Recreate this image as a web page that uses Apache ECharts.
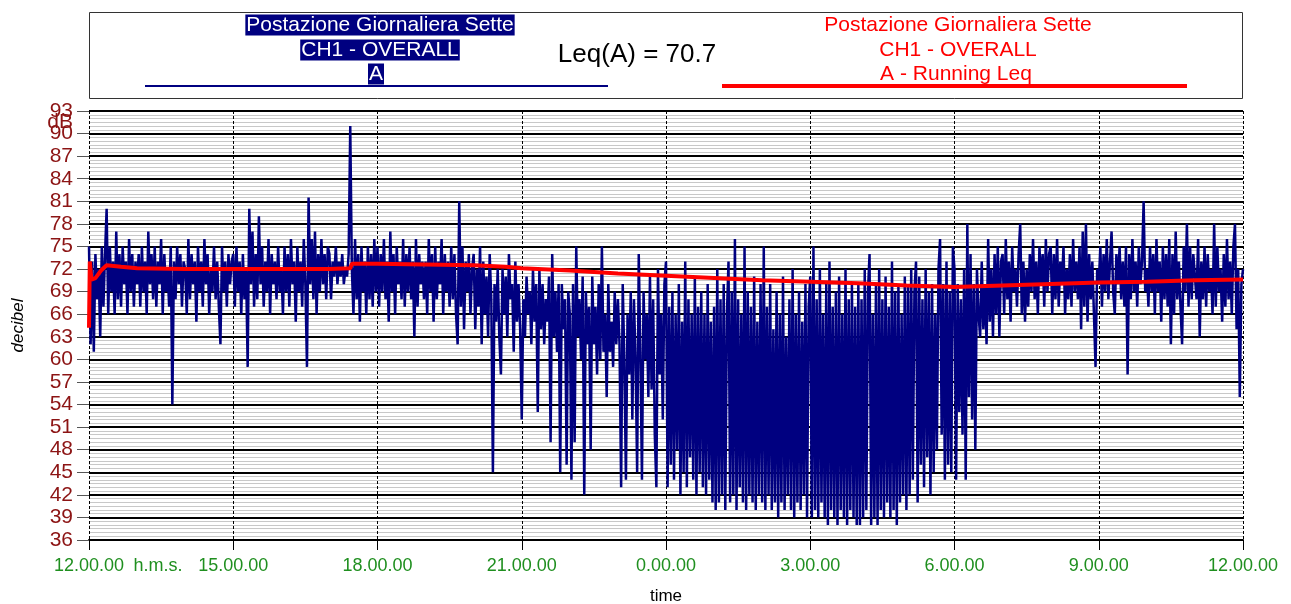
<!DOCTYPE html>
<html>
<head>
<meta charset="utf-8">
<title>Postazione Giornaliera Sette</title>
<script src="https://cdn.jsdelivr.net/npm/echarts@6/dist/echarts.min.js"></script>
<style>
  html, body { margin: 0; padding: 0; background: #fff; }
  #chart { width: 1291px; height: 604px; }
</style>
</head>
<body>
<div id="chart"></div>
<script>
// x axis tick labels, one every 3 hours (180 minutes from 12.00.00)
var timeLabels = ['12.00.00', '15.00.00', '18.00.00', '21.00.00', '0.00.00',
  '3.00.00', '6.00.00', '9.00.00', '12.00.00'];

// A-weighted level, one value every 2 minutes, one row per hour (12 -> 11)
var stepMinutes = 2;
var levelA = [
  75, 62, 73, 61, 74, 68, 72, 63, 75, 67, 74, 80, 66, 75, 69, 73, 66, 77, 68, 74, 67, 75, 70, 73, 66, 76, 69, 74, 67, 73,
  70, 74, 67, 75, 69, 73, 66, 77, 70, 74, 68, 75, 67, 73, 70, 76, 66, 74, 69, 72, 67, 75, 54, 73, 68, 75, 70, 74, 67, 73,
  72, 66, 76, 68, 74, 70, 73, 65, 75, 69, 73, 67, 76, 70, 74, 66, 72, 69, 75, 68, 73, 67, 62, 75, 69, 73, 67, 74, 70, 73,
  74, 67, 75, 69, 73, 66, 74, 68, 72, 59, 80, 70, 77, 67, 74, 68, 79, 70, 75, 67, 73, 69, 76, 66, 74, 70, 73, 68, 75, 69,
  72, 66, 75, 69, 74, 67, 76, 70, 73, 65, 75, 69, 73, 67, 76, 70, 59, 81.5, 70, 76, 68, 77, 66, 74, 69, 76, 70, 74, 68, 75,
  74, 68, 73, 71, 75, 70, 73, 71, 74, 70, 72, 71, 74, 91, 72, 66, 76, 68, 74, 65, 75, 69, 73, 66, 75, 68, 74, 67, 76, 69,
  75, 67, 74, 69, 76, 68, 73, 65, 77, 69, 74, 66, 75, 70, 73, 68, 76, 67, 74, 69, 75, 68, 73, 63, 76, 67, 74, 70, 73, 68,
  73, 66, 76, 69, 74, 65, 75, 68, 73, 70, 76, 66, 74, 69, 73, 67, 75, 68, 74, 66, 62, 81, 67, 75, 64, 73, 69, 74, 66, 72,
  74, 64, 72, 67, 75, 62, 73, 66, 71, 63, 74, 68, 45, 70, 65, 72, 63, 58, 72, 66, 71, 63, 74, 68, 70, 61, 73, 65, 70, 64,
  52, 68, 63, 71, 66, 69, 62, 72, 65, 70, 53, 72, 64, 70, 62, 68, 65, 71, 49, 74, 63, 69, 61, 70, 45, 70, 64, 68, 46, 69,
  66, 44, 70, 49, 75, 63, 68, 60, 71, 42, 69, 62, 67, 48, 71, 62, 67, 58, 70, 60, 75, 61, 66, 55, 70, 61, 65, 59, 69, 62,
  68, 62, 43, 70, 60, 44, 66, 58, 69, 52, 68, 60, 45, 74, 61, 44, 69, 60, 66, 55, 71, 56, 68, 50, 43, 72, 58, 66, 52, 70,
  73, 43, 67, 46, 69, 44, 66, 48, 70, 42, 65, 45, 73, 43, 68, 47, 66, 44, 71, 42, 67, 45, 69, 43, 66, 42, 70, 44, 65, 41,
  67, 40, 72, 41, 68, 42, 70, 40, 66, 73, 41, 69, 42, 76, 40, 68, 43, 66, 41, 75, 40, 69, 42, 67, 41, 71, 40, 65, 42, 70,
  41, 75, 40, 67, 42, 70, 40, 64, 41, 69, 39, 66, 41, 71, 40, 63, 42, 68, 40, 72, 39, 66, 41, 69, 40, 65, 42, 70, 39, 67,
  71, 39, 75, 40, 68, 39, 72, 41, 66, 39, 70, 38, 73, 40, 67, 39, 69, 38, 71, 40, 66, 39, 72, 38, 68, 40, 70, 39, 67, 38,
  70, 38, 68, 39, 72, 40, 69, 74, 38, 66, 39, 70, 38, 72, 40, 68, 39, 71, 41, 67, 39, 73, 40, 69, 38, 70, 41, 66, 42, 71,
  40, 70, 42, 72, 44, 69, 73, 41, 71, 46, 68, 43, 72, 47, 69, 42, 70, 45, 66, 48, 72, 76, 50, 70, 44, 73, 46, 69, 45, 75,
  72, 44, 70, 53, 68, 50, 72, 44, 78, 55, 74, 52, 70, 48, 72, 66, 63, 73, 64, 70, 62, 76, 65, 72, 63, 74, 66, 75, 63, 73,
  74, 66, 76, 68, 73, 65, 75, 69, 72, 67, 74, 78, 66, 73, 65, 72, 67, 74, 69, 76, 68, 73, 66, 75, 70, 74, 67, 76, 69, 74,
  75, 66, 74, 68, 76, 67, 73, 70, 75, 66, 72, 68, 74, 67, 76, 69, 73, 68, 75, 64, 77, 67, 78, 65, 74, 68, 73, 66, 59, 72,
  70, 75, 67, 74, 69, 76, 68, 73, 77, 69, 66, 74, 70, 75, 68, 73, 67, 75, 58, 74, 68, 76, 69, 73, 67, 75, 70, 73, 81, 69,
  72, 67, 75, 69, 74, 66, 76, 69, 73, 65, 75, 68, 74, 67, 76, 62, 74, 66, 77, 68, 73, 67, 62, 75, 69, 78, 67, 75, 68, 74,
  74, 68, 76, 63, 73, 68, 75, 67, 74, 69, 72, 66, 78, 67, 75, 69, 72, 65, 74, 67, 76, 68, 73, 66, 75, 78, 64, 72, 55, 70,
  72
];

// running Leq, sampled at these minutes after 12.00.00
var leqMinutes = [0, 1, 3, 8, 15, 22, 40, 60, 120, 180, 240, 300, 326, 328, 360, 420,
  480, 520, 540, 600, 660, 720, 780, 840, 900, 960, 1020, 1080, 1140, 1200, 1260,
  1320, 1380, 1440];
var leqValues = [64.2, 73, 70.6, 70.8, 71.8, 72.5, 72.3, 72.1, 72.0, 72.0, 72.0, 72.0,
  72.1, 72.7, 72.7, 72.6, 72.5, 72.3, 72.1, 71.8, 71.4, 71.1, 70.8, 70.5, 70.3, 70.1,
  69.8, 69.6, 69.8, 70.0, 70.2, 70.3, 70.5, 70.6];

var leqTotal = 70.7;
var titleLines = ['Postazione Giornaliera Sette', 'CH1 - OVERALL'];

var FONT = '"Liberation Sans", Arial, sans-serif';

function renderNoiseChart(chartID) {
  var chartDom = document.getElementById(chartID);
  var myChart = echarts.init(chartDom);

  var levelData = levelA.map(function (v, i) { return [i * stepMinutes, v]; });
  var leqData = leqMinutes.map(function (m, i) { return [m, leqValues[i]]; });

  function boxText(text, x, y, color, bg) {
    return {
      type: 'text',
      x: x,
      y: y,
      z: 10,
      style: {
        text: text,
        align: 'center',
        verticalAlign: 'middle',
        fill: color,
        font: '21px ' + FONT,
        backgroundColor: bg || 'transparent',
        padding: bg ? [0, 1, 0, 1] : 0
      }
    };
  }

  var option = {
    animation: false,
    backgroundColor: '#fff',
    grid: { left: 89, right: 48, top: 111, bottom: 64, outerBoundsMode: 'none', containLabel: false },
    xAxis: {
      type: 'value',
      min: 0,
      max: 1440,
      interval: 180,
      name: 'time',
      nameLocation: 'middle',
      nameGap: 48,
      nameTextStyle: { color: '#000', fontSize: 17, fontFamily: FONT },
      axisLine: { show: true, lineStyle: { color: '#000', width: 2 } },
      axisTick: { show: true, length: 10, lineStyle: { color: '#000' } },
      axisLabel: {
        margin: 17,
        color: '#1f8f1f',
        fontSize: 18,
        fontFamily: FONT,
        formatter: function (v) { return timeLabels[Math.round(v / 180)]; }
      },
      splitLine: { show: true, lineStyle: { color: '#000', width: 1, type: [3, 2] } }
    },
    yAxis: {
      type: 'value',
      min: 36,
      max: 93,
      interval: 3,
      name: 'decibel',
      nameLocation: 'middle',
      nameGap: 62,
      nameRotate: 90,
      nameTextStyle: { color: '#000', fontSize: 17, fontStyle: 'italic', fontFamily: FONT },
      axisLine: { show: false },
      axisTick: { show: true, length: 12, lineStyle: { color: '#555' } },
      axisLabel: { margin: 16, color: '#8c1414', fontSize: 21, fontFamily: FONT },
      splitLine: { show: true, lineStyle: { color: '#000', width: 2 } },
      minorTick: { show: false, splitNumber: 6 },
      minorSplitLine: { show: true, lineStyle: { color: '#c8c8c8', width: 1 } }
    },
    series: [
      {
        name: 'A',
        type: 'line',
        data: levelData,
        showSymbol: false,
        lineStyle: { color: '#000080', width: 2.5 },
        itemStyle: { color: '#000080' },
        z: 2
      },
      {
        name: 'A - Running Leq',
        type: 'line',
        data: leqData,
        showSymbol: false,
        lineStyle: { color: '#ff0000', width: 4 },
        itemStyle: { color: '#ff0000' },
        z: 3
      }
    ],
    graphic: [
      {
        type: 'rect',
        shape: { x: 89.5, y: 12.5, width: 1153, height: 86 },
        style: { fill: 'none', stroke: '#333', lineWidth: 1 }
      },
      boxText(titleLines[0], 380, 25, '#fff', '#000080'),
      boxText(titleLines[1], 380, 50, '#fff', '#000080'),
      boxText('A', 376, 74, '#fff', '#000080'),
      {
        type: 'line',
        shape: { x1: 145, y1: 86, x2: 608, y2: 86 },
        style: { stroke: '#000080', lineWidth: 2 }
      },
      {
        type: 'text',
        x: 637,
        y: 55,
        style: {
          text: 'Leq(A) = ' + leqTotal.toFixed(1),
          align: 'center',
          verticalAlign: 'middle',
          fill: '#000',
          font: '26px ' + FONT
        }
      },
      boxText(titleLines[0], 958, 25, '#ff0000'),
      boxText(titleLines[1], 958, 50, '#ff0000'),
      boxText('A - Running Leq', 956, 74, '#ff0000'),
      {
        type: 'line',
        shape: { x1: 722, y1: 86, x2: 1187, y2: 86 },
        style: { stroke: '#ff0000', lineWidth: 4 }
      },
      {
        type: 'text',
        x: 73,
        y: 122,
        style: { text: 'dB', align: 'right', verticalAlign: 'middle', fill: '#8c1414', font: '21px ' + FONT }
      },
      {
        type: 'text',
        x: 158,
        y: 566,
        style: { text: 'h.m.s.', align: 'center', verticalAlign: 'middle', fill: '#1f8f1f', font: '18px ' + FONT }
      }
    ]
  };

  option && myChart.setOption(option);
}

renderNoiseChart('chart');
</script>
</body>
</html>
